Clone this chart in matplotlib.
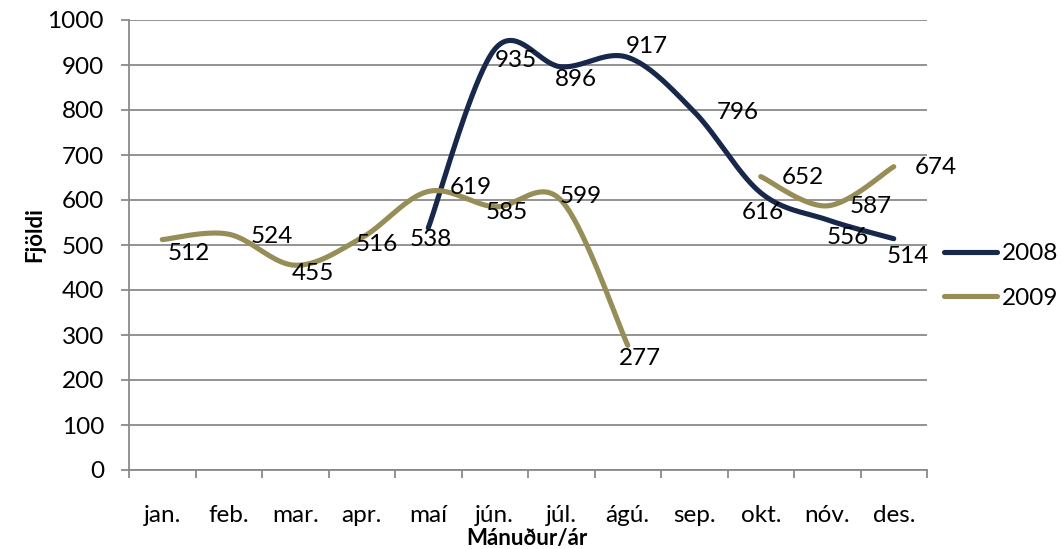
import numpy as np
import matplotlib
matplotlib.use('Agg')
import matplotlib.pyplot as plt
from matplotlib.lines import Line2D

plt.rcParams['font.family'] = ['Lato', 'DejaVu Sans']

# Data
months = ['jan.', 'feb.', 'mar.', 'apr.', 'maí', 'jún.', 'júl.',
          'ágú.', 'sep.', 'okt.', 'nóv.', 'des.']
y2008 = [None, None, None, None, 538, 935, 896, 917, 796, 616, 556, 514]
y2009 = [512, 524, 455, 516, 619, 585, 599, 277, None, 652, 587, 674]

# label offsets in pixels (dx right, dy down), one per month
off2008 = [None, None, None, None, (3, 12), (21, 11), (15, 13), (19, -11),
           (43, 1), (2, 20), (21, 18), (14, 18)]
off2009 = [(27, 14), (43, 2), (18, 8), (15, 7), (43, -4), (12, 6), (19, -4),
           (12, 13), None, (42, 1), (43, 1), (42, 1)]

navy = '#17284a'
gold = '#978d57'
grid_col = '#8a8a8a'


def smooth(xs, ys, n=40):
    # Excel-style smoothed line (Catmull-Rom as cubic Bezier)
    pts = np.column_stack([xs, ys]).astype(float)
    out = [pts[0]]
    t = np.linspace(0, 1, n)[1:, None]
    for i in range(len(pts) - 1):
        p0 = pts[max(i - 1, 0)]
        p1 = pts[i]
        p2 = pts[i + 1]
        p3 = pts[min(i + 2, len(pts) - 1)]
        c1 = p1 + (p2 - p0) / 6
        c2 = p2 - (p3 - p1) / 6
        seg = ((1 - t) ** 3 * p1 + 3 * (1 - t) ** 2 * t * c1
               + 3 * (1 - t) * t ** 2 * c2 + t ** 3 * p2)
        out.extend(seg)
    return np.array(out)


def runs(values):
    # split a series into runs without gaps
    chunks, cur = [], []
    for i, v in enumerate(values):
        if v is None:
            if cur:
                chunks.append(cur)
            cur = []
        else:
            cur.append(i)
    if cur:
        chunks.append(cur)
    return chunks


fig = plt.figure(figsize=(10.62, 5.49), dpi=100)
ax = fig.add_axes([129 / 1062, 1 - 470 / 549, 798 / 1062, 450 / 549])

for values, color in [(y2008, navy), (y2009, gold)]:
    for idx in runs(values):
        xs = np.array(idx)
        ys = np.array([values[i] for i in idx])
        if len(xs) > 1:
            c = smooth(xs, ys)
            ax.plot(c[:, 0], c[:, 1], color=color, lw=3.7,
                    solid_capstyle='round', zorder=3)

for values, offs in [(y2008, off2008), (y2009, off2009)]:
    for i, v in enumerate(values):
        if v is None:
            continue
        dx, dy = offs[i]
        ax.annotate(str(v), (i, v), xytext=(dx, -dy), textcoords='offset pixels',
                    ha='center', va='center', fontsize=17.5, color='black',
                    zorder=4)

ax.set_xlim(-0.5, 11.5)
ax.set_ylim(0, 1000)
ax.set_yticks(range(0, 1001, 100))
ax.yaxis.grid(True, color=grid_col, lw=1.3)
ax.set_axisbelow(True)

ax.set_xticks(np.arange(-0.5, 12, 1))
ax.set_xticklabels([])
ax.set_xticks(range(12), minor=True)
ax.set_xticklabels(months, minor=True, fontsize=17.5)
ax.tick_params(axis='x', which='major', length=6, width=1.3, color=grid_col,
               direction='out')
ax.tick_params(axis='x', which='minor', length=0, pad=25)
ax.tick_params(axis='y', length=6, width=1.3, color=grid_col, pad=12,
               labelsize=17.5)

for s in ['top', 'right']:
    ax.spines[s].set_visible(False)
for s in ['left', 'bottom']:
    ax.spines[s].set_color(grid_col)
    ax.spines[s].set_linewidth(1.3)

fig.text(35 / 1062, 1 - 235 / 549, 'Fjöldi', rotation=90, ha='center',
         va='center', fontsize=16, fontweight='bold')
fig.text(527 / 1062, 1 - 538 / 549, 'Mánuður/ár', ha='center', va='center',
         fontsize=16, fontweight='bold')

handles = [Line2D([], [], color=navy, lw=3.7, solid_capstyle='round'),
           Line2D([], [], color=gold, lw=3.7, solid_capstyle='round')]
fig.legend(handles, ['2008', '2009'], loc='center left',
           bbox_to_anchor=(944 / 1062, 1 - 276 / 549), frameon=False,
           fontsize=17.5, handlelength=2.2, handletextpad=0.2,
           labelspacing=0.95, borderpad=0, borderaxespad=0)

fig.savefig('out.png', dpi=100)
